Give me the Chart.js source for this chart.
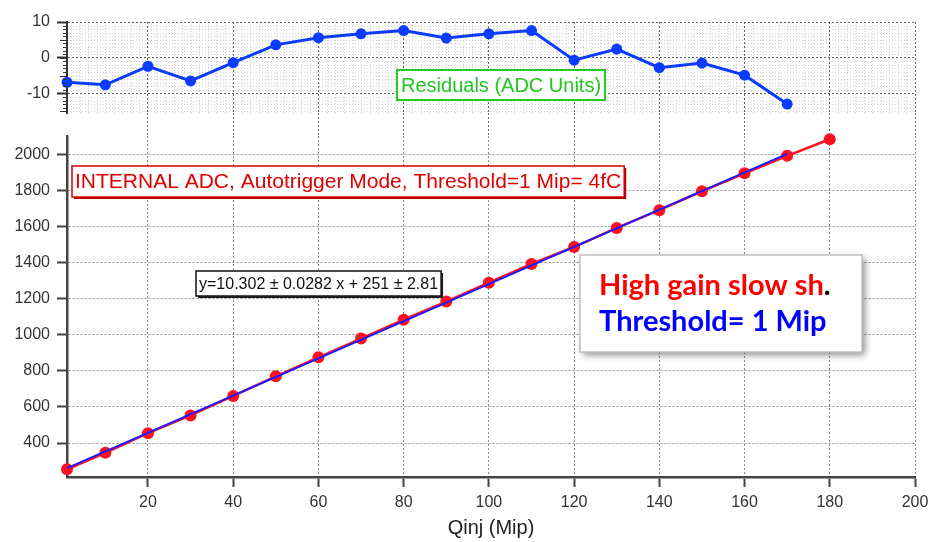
<!DOCTYPE html>
<html>
<head>
<meta charset="utf-8">
<title>Qinj linearity</title>
<script src="https://cdn.jsdelivr.net/npm/chart.js@4.4.1/dist/chart.umd.min.js"></script>
<style>
  body { margin: 0; background: #fff; }
  #wrap { position: relative; width: 932px; height: 542px; overflow: hidden; background: #fff; }
  #main { position: absolute; left: 0; top: 130px; }
  #resid { position: absolute; left: 0; top: 0; }
</style>
</head>
<body>
<div id="wrap">
  <canvas id="main" width="932" height="412"></canvas>
  <canvas id="resid" width="932" height="135"></canvas>
</div>
<script>
// injected charge (Mip) and measured ADC counts
const qinj = [1, 10, 20, 30, 40, 50, 60, 70, 80, 90, 100, 110, 120, 130, 140, 150, 160, 170, 180];
const adc = [255, 346, 455, 553, 661, 770, 875, 979, 1083, 1184, 1288, 1392, 1486, 1592, 1690, 1795, 1894, 1991, 2083];

// residuals of the fit, over the fitted range only
const residQinj = [1, 10, 20, 30, 40, 50, 60, 70, 80, 90, 100, 110, 120, 130, 140, 150, 160, 170];
const residuals = [-6.9, -7.6, -2.4, -6.5, -1.4, 3.6, 5.6, 6.7, 7.6, 5.5, 6.7, 7.6, -0.7, 2.4, -2.8, -1.5, -4.9, -13.0];

// linear fit y = a x + b
const fitSlope = 10.302;
const fitIntercept = 251;
const fitRange = [1, 170];

const qinjTicks = [20, 40, 60, 80, 100, 120, 140, 160, 180, 200];
const adcTicks = [400, 600, 800, 1000, 1200, 1400, 1600, 1800, 2000];
const residTicks = [-10, 0, 10];

Chart.defaults.font.family = '"Liberation Sans", Arial, Helvetica, sans-serif';
Chart.defaults.color = '#333';

const AXIS_W = 67;

function fixedWidth(w) {
  return s => { s.width = w; s.paddingTop = 0; s.paddingBottom = 0; };
}
function fixedHeight(h) {
  return s => { s.height = h; s.paddingLeft = 0; s.paddingRight = 0; };
}
function setTicks(values) {
  return s => { s.ticks = values.map(v => ({ value: v })); };
}
const plainNumber = v => String(v);

// fine dotted mesh + small ticks on the left axis (residual panel)
const minorGrid = {
  id: 'minorGrid',
  beforeDraw(chart, args, o) {
    if (!o.xStep) return;
    const { ctx, chartArea: a, scales: { x, y } } = chart;
    ctx.save();
    ctx.strokeStyle = o.color;
    ctx.lineWidth = 1;
    ctx.setLineDash([1, 2]);
    ctx.beginPath();
    for (let v = Math.ceil(x.min / o.xStep) * o.xStep; v <= x.max; v += o.xStep) {
      if (v % 20 === 0) continue;
      const px = Math.round(x.getPixelForValue(v)) + 0.5;
      ctx.moveTo(px, a.top);
      ctx.lineTo(px, a.bottom);
    }
    for (let v = Math.ceil(y.min / o.yStep) * o.yStep; v <= y.max; v += o.yStep) {
      if (v % 10 === 0) continue;
      const py = Math.round(y.getPixelForValue(v)) + 0.5;
      ctx.moveTo(a.left, py);
      ctx.lineTo(a.right, py);
    }
    ctx.stroke();
    ctx.restore();
  },
  afterDraw(chart, args, o) {
    if (!o.xStep) return;
    const { ctx, chartArea: a, scales: { y } } = chart;
    ctx.save();
    ctx.strokeStyle = o.tickColor;
    ctx.lineWidth = 1.2;
    ctx.beginPath();
    for (let v = Math.ceil(y.min); v <= y.max; v += 1) {
      const len = v % 5 === 0 ? 7 : 4;
      const py = Math.round(y.getPixelForValue(v)) + 0.5;
      ctx.moveTo(a.left - len, py);
      ctx.lineTo(a.left, py);
    }
    ctx.stroke();
    ctx.restore();
  }
};

// boxed text notes
const notes = {
  id: 'notes',
  afterDraw(chart, args, o) {
    const ctx = chart.ctx;
    (o.items || []).forEach(n => {
      ctx.save();
      ctx.font = n.font;
      const widths = n.lines.map(line => line.reduce((w, r) => w + ctx.measureText(r[0]).width, 0));
      const w = n.w || Math.max(...widths) + 2 * n.padX;
      if (n.hardShadow) {
        ctx.fillStyle = n.hardShadow;
        ctx.fillRect(n.x + 2, n.y + 2, w, n.h);
      }
      if (n.softShadow) {
        ctx.shadowColor = n.softShadow;
        ctx.shadowBlur = 7;
        ctx.shadowOffsetX = 3;
        ctx.shadowOffsetY = 3;
      }
      ctx.fillStyle = '#fff';
      ctx.fillRect(n.x, n.y, w, n.h);
      ctx.shadowColor = 'transparent';
      ctx.strokeStyle = n.border;
      ctx.lineWidth = n.borderWidth;
      ctx.strokeRect(n.x, n.y, w, n.h);
      ctx.textBaseline = 'alphabetic';
      ctx.textAlign = 'left';
      n.lines.forEach((line, i) => {
        let tx = n.x + (n.textX != null ? n.textX : n.padX);
        line.forEach(([text, color]) => {
          ctx.fillStyle = color;
          ctx.fillText(text, tx, n.y + n.baselines[i]);
          tx += ctx.measureText(text).width;
        });
      });
      ctx.restore();
    });
  }
};

const common = {
  responsive: false,
  animation: false,
  events: [],
  plugins: { legend: { display: false }, tooltip: { enabled: false } }
};

new Chart(document.getElementById('resid'), {
  type: 'line',
  data: {
    datasets: [{
      data: residQinj.map((x, i) => ({ x, y: residuals[i] })),
      borderColor: '#0a3cff',
      backgroundColor: '#0a3cff',
      borderWidth: 3,
      pointRadius: 5.5,
      pointBorderWidth: 0,
      tension: 0,
      clip: false
    }]
  },
  options: {
    ...common,
    layout: { padding: { left: 0, top: 22, right: 17, bottom: 0 } },
    plugins: {
      ...common.plugins,
      minorGrid: { xStep: 2, yStep: 1, color: '#d2d2d2', tickColor: '#333' },
      notes: {
        items: [{
          x: 397, y: 70, h: 30, padX: 4,
          font: '20px "Liberation Sans", Arial, sans-serif',
          lines: [[['Residuals (ADC Units)', '#1ec81e']]],
          baselines: [22],
          border: '#22cc22', borderWidth: 2
        }]
      }
    },
    scales: {
      x: {
        type: 'linear', min: 1, max: 200,
        afterBuildTicks: setTicks(qinjTicks),
        afterFit: fixedHeight(22),
        ticks: { display: false },
        grid: { color: '#666', lineWidth: 1, tickLength: 22, tickColor: '#666', tickWidth: 1, tickBorderDash: [2, 2] },
        border: { display: false, dash: [2, 2] }
      },
      y: {
        min: -15.5, max: 10,
        afterBuildTicks: setTicks(residTicks),
        afterFit: fixedWidth(AXIS_W),
        ticks: { padding: 7, font: { size: 16 }, color: '#333', callback: plainNumber },
        grid: { color: '#666', lineWidth: 1, tickColor: '#333', tickLength: 10, tickWidth: 2 },
        border: { display: true, color: '#333', width: 2, dash: [2, 2] }
      }
    }
  },
  plugins: [minorGrid, notes]
});

new Chart(document.getElementById('main'), {
  type: 'line',
  data: {
    datasets: [
      {
        label: 'fit',
        data: fitRange.map(x => ({ x, y: fitSlope * x + fitIntercept })),
        borderColor: '#1a1aff',
        borderWidth: 2,
        pointRadius: 0,
        order: 0,
        clip: false
      },
      {
        label: 'ADC',
        data: qinj.map((x, i) => ({ x, y: adc[i] })),
        borderColor: '#ff1020',
        backgroundColor: '#ff1020',
        borderWidth: 2.5,
        pointRadius: 6,
        pointBorderWidth: 0,
        tension: 0,
        order: 1,
        clip: false
      }
    ]
  },
  options: {
    ...common,
    layout: { padding: { left: 0, top: 5, right: 17, bottom: 0 } },
    plugins: {
      ...common.plugins,
      notes: {
        items: [
          {
            x: 72, y: 36, h: 31, padX: 3,
            font: '21px "Liberation Sans", Arial, sans-serif',
            lines: [[['INTERNAL ADC, Autotrigger Mode, Threshold=1 Mip= 4fC', '#e00000']]],
            baselines: [22],
            border: '#d00000', borderWidth: 1.5, hardShadow: '#b00000'
          },
          {
            x: 196, y: 141, h: 25, padX: 3,
            font: '16px "Liberation Sans", Arial, sans-serif',
            lines: [[['y=10.302 \u00b1 0.0282 x + 251 \u00b1 2.81', '#111']]],
            baselines: [18],
            border: '#111', borderWidth: 1.5, hardShadow: '#222'
          },
          {
            x: 580, y: 125, w: 282, h: 97, textX: 19,
            font: 'bold 29px Lato, "Open Sans", sans-serif',
            lines: [
              [['High gain slow sh', '#ff0000'], ['.', '#000']],
              [['Threshold= 1 Mip', '#0000ff']]
            ],
            baselines: [40, 76],
            border: '#c0c0c0', borderWidth: 1.5, softShadow: 'rgba(0,0,0,0.45)'
          }
        ]
      }
    },
    scales: {
      x: {
        type: 'linear', min: 1, max: 200,
        afterBuildTicks: setTicks(qinjTicks),
        afterFit: fixedHeight(65),
        ticks: { padding: 6, font: { size: 16 }, color: '#333', maxRotation: 0, autoSkip: false, callback: plainNumber },
        grid: { color: '#8a8a8a', lineWidth: 1, tickColor: '#444', tickLength: 10, tickWidth: 2 },
        border: { display: true, color: '#444', width: 2.5, dash: [2, 2] },
        title: { display: true, text: 'Qinj (Mip)', font: { size: 20 }, color: '#222', padding: { top: 0, bottom: 2 } }
      },
      y: {
        min: 212, max: 2101,
        afterBuildTicks: setTicks(adcTicks),
        afterFit: fixedWidth(AXIS_W),
        ticks: { padding: 7, font: { size: 16 }, color: '#333', autoSkip: false, callback: plainNumber },
        grid: { color: '#8a8a8a', lineWidth: 1, tickColor: '#444', tickLength: 10, tickWidth: 2 },
        border: { display: true, color: '#444', width: 2.5, dash: [2, 2] }
      }
    }
  },
  plugins: [notes]
});
</script>
</body>
</html>
